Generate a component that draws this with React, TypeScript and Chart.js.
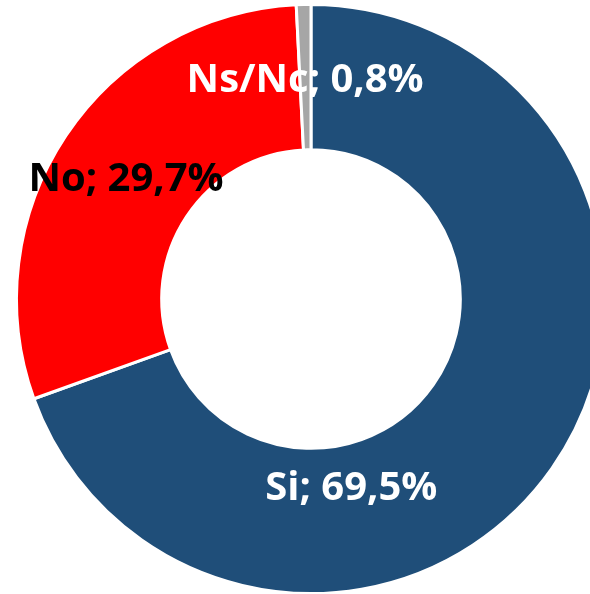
import React, { useEffect, useRef } from "react";
import { Chart, registerables } from "chart.js";

Chart.register(...registerables);

const categories = ["Si", "No", "Ns/Nc"];
const values = [69.5, 29.7, 0.8];
const valueLabels = ["69,5%", "29,7%", "0,8%"];
const sliceColors = ["#1F4E79", "#FF0000", "#A6A6A6"];
const labelColors = ["#FFFFFF", "#000000", "#FFFFFF"];
// label anchor offsets from the doughnut centre, as fractions of the outer radius
const labelOffsetX = [0.137, -0.628, -0.02];
const labelOffsetY = [0.645, -0.405, -0.74];

const labelPlugin = {
  id: "sliceLabels",
  afterDatasetsDraw(chart: any) {
    const meta = chart.getDatasetMeta(0);
    const ctx = chart.ctx;
    ctx.save();
    ctx.font = "bold 40px 'Open Sans'";
    ctx.textAlign = "center";
    ctx.textBaseline = "middle";
    meta.data.forEach((arc: any, i: number) => {
      const { x, y, outerRadius } = arc.getProps(["x", "y", "outerRadius"], true);
      const lx = x + labelOffsetX[i] * outerRadius;
      const ly = y + labelOffsetY[i] * outerRadius;
      ctx.fillStyle = labelColors[i];
      ctx.fillText(`${categories[i]}; ${valueLabels[i]}`, lx, ly);
    });
    ctx.restore();
  },
};

export default function App() {
  const ref = useRef<HTMLCanvasElement>(null);
  useEffect(() => {
    if (!ref.current) return;
    const chart = new Chart(ref.current, {
      type: "doughnut",
      data: {
        labels: categories,
        datasets: [
          {
            data: values,
            backgroundColor: sliceColors,
            borderColor: "#FFFFFF",
            borderWidth: 3,
          },
        ],
      },
      options: {
        responsive: false,
        animation: false,
        cutout: "50.7%",
        layout: { padding: { left: 15, right: 15, top: 3, bottom: 3 } },
        plugins: {
          legend: { display: false },
          tooltip: { enabled: false },
        },
      },
      plugins: [labelPlugin],
    });
    return () => chart.destroy();
  }, []);
  return (
    <div
      style={{
        position: "absolute",
        left: 0,
        top: 0,
        width: 590,
        height: 594,
        overflow: "hidden",
        background: "#FFFFFF",
      }}
    >
      <canvas
        ref={ref}
        width={622}
        height={598}
        style={{ width: 622, height: 598, display: "block" }}
      />
    </div>
  );
}
